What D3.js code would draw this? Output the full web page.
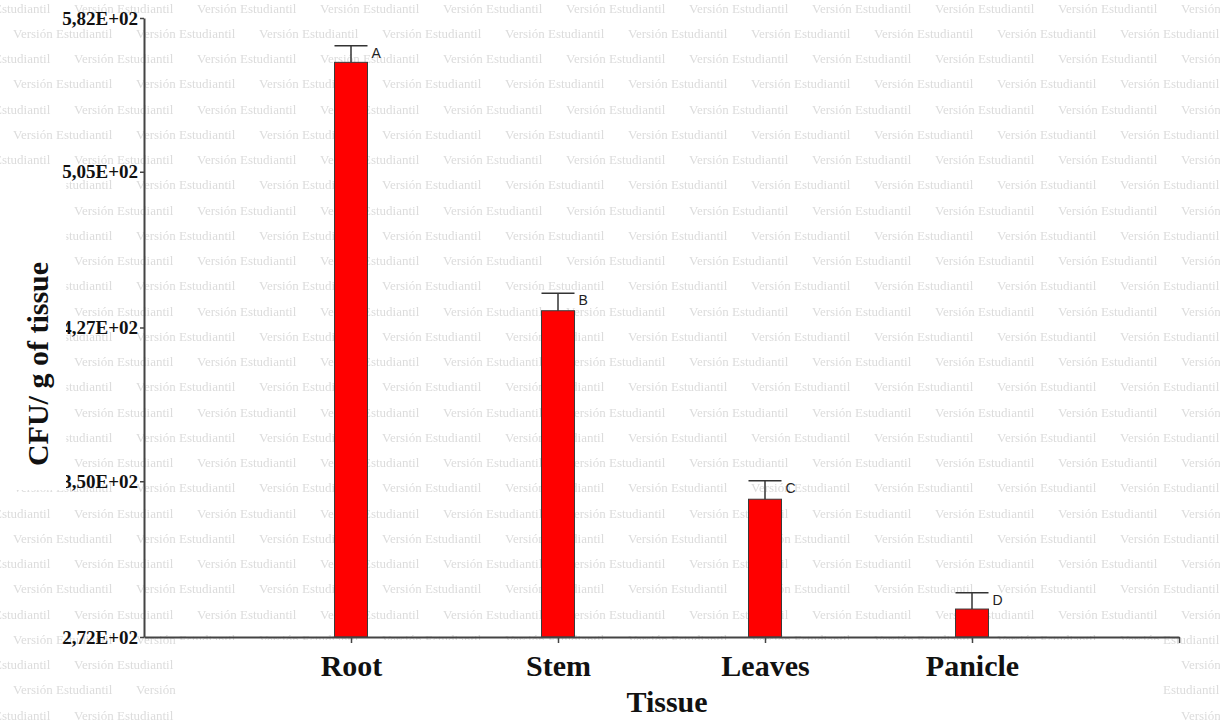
<!DOCTYPE html>
<html>
<head>
<meta charset="utf-8">
<script src="https://cdn.jsdelivr.net/npm/d3@7"></script>
<style>
  html, body { margin: 0; padding: 0; background: #fff; }
  svg { display: block; }
</style>
</head>
<body>
<svg id="chart" width="1220" height="723"></svg>
<script>
// Colony counts per tissue (CFU / g), with standard error and significance letters
const tissues = ["Root", "Stem", "Leaves", "Panicle"];
const cfuMeans = [559.8, 435.4, 341.0, 286.0];
const cfuErrors = [8.3, 8.7, 9.3, 8.2];
const groupLetters = ["A", "B", "C", "D"];
const yTickValues = [272, 350, 427, 505, 582];
const yTickLabels = ["2,72E+02", "3,50E+02", "4,27E+02", "5,05E+02", "5,82E+02"];

const W = 1220, H = 723;
const svg = d3.select("#chart");
const serif = "'Liberation Serif', 'Times New Roman', serif";

const x0 = 144, x1 = 1179, yTop = 18, yBase = 637;

// Category positions sit at 1..4 on a 0..5 linear axis
const x = d3.scaleLinear().domain([0, tissues.length + 1]).range([x0, x1]);
const y = d3.scaleLinear().domain([272, 582]).range([yBase, yTop]);
const barW = 33;

// Background watermark text, tiled
const defs = svg.append("defs");
const clip = defs.append("clipPath").attr("id", "wm-clip");
clip.append("rect").attr("x", 0).attr("y", 0).attr("width", W).attr("height", 640);
clip.append("rect").attr("x", 0).attr("y", 640).attr("width", 176).attr("height", H - 640);
clip.append("rect").attr("x", 1160).attr("y", 640).attr("width", W - 1160).attr("height", H - 640);
defs.append("filter").attr("id", "soft")
  .append("feGaussianBlur").attr("stdDeviation", 0.3);

const wm = svg.append("g").attr("clip-path", "url(#wm-clip)").attr("filter", "url(#soft)");
const rowStep = 25.25, colStep = 123;
for (let r = 0; r < 30; r++) {
  const off = (r % 2 === 0) ? 74 : 13;
  for (let c = -1; c < 11; c++) {
    wm.append("text")
      .attr("x", off + c * colStep)
      .attr("y", 12.5 + r * rowStep)
      .attr("font-family", serif)
      .attr("font-size", 13)
      .attr("fill", "#dcdcdc")
      .text("Versión Estudiantil");
  }
}

// Bars
svg.append("g").selectAll("rect.bar")
  .data(tissues)
  .join("rect")
  .attr("class", "bar")
  .attr("x", (d, i) => x(i + 1) - barW / 2)
  .attr("y", (d, i) => y(cfuMeans[i]))
  .attr("width", barW)
  .attr("height", (d, i) => y(272) - y(cfuMeans[i]))
  .attr("fill", "#ff0000")
  .attr("stroke", "#3a3a3a")
  .attr("stroke-width", 1);

// Error bars (upper side) with caps
const eb = svg.append("g").attr("stroke", "#333").attr("stroke-width", 1.5);
tissues.forEach((t, i) => {
  const cx = x(i + 1);
  eb.append("line").attr("x1", cx).attr("x2", cx)
    .attr("y1", y(cfuMeans[i])).attr("y2", y(cfuMeans[i] + cfuErrors[i]));
  eb.append("line").attr("x1", cx - barW / 2).attr("x2", cx + barW / 2)
    .attr("y1", y(cfuMeans[i] + cfuErrors[i])).attr("y2", y(cfuMeans[i] + cfuErrors[i]));
});

// Significance letters
svg.append("g").selectAll("text.grp")
  .data(groupLetters)
  .join("text")
  .attr("class", "grp")
  .attr("x", (d, i) => x(i + 1) + barW / 2 + 4)
  .attr("y", (d, i) => y(cfuMeans[i] + cfuErrors[i]) + 12)
  .attr("font-family", "'Liberation Sans', Arial, sans-serif")
  .attr("font-size", 14)
  .attr("fill", "#222")
  .text(d => d);

// Y axis
const yAxis = d3.axisLeft(y)
  .tickValues(yTickValues)
  .tickFormat((d, i) => yTickLabels[i])
  .tickSize(4)
  .tickSizeOuter(0)
  .tickPadding(2);
const gy = svg.append("g").attr("transform", `translate(${x0},0)`).call(yAxis);
gy.select(".domain").attr("stroke", "#444").attr("stroke-width", 2);
gy.selectAll(".tick line").attr("stroke", "#444").attr("stroke-width", 1.5);
gy.selectAll(".tick text")
  .attr("font-family", serif).attr("font-size", 19).attr("font-weight", "bold")
  .attr("fill", "#111");

// X axis
const xAxis = d3.axisBottom(x)
  .tickValues(d3.range(1, tissues.length + 2))
  .tickFormat(d => tissues[d - 1] || "")
  .tickSize(6)
  .tickSizeOuter(0)
  .tickPadding(12);
const gx = svg.append("g").attr("transform", `translate(0,${yBase})`).call(xAxis);
gx.select(".domain").attr("stroke", "#444").attr("stroke-width", 2);
gx.selectAll(".tick line").attr("stroke", "#444").attr("stroke-width", 1.5);
gx.selectAll(".tick text")
  .attr("font-family", serif).attr("font-size", 30).attr("font-weight", "bold")
  .attr("fill", "#111");

// Blank strip on the far left
svg.append("rect").attr("x", 0).attr("y", 179).attr("width", 66).attr("height", 311)
  .attr("fill", "#fff");

// Axis titles
svg.append("text")
  .attr("transform", "translate(48,364) rotate(-90)")
  .attr("text-anchor", "middle")
  .attr("font-family", serif).attr("font-size", 30).attr("font-weight", "bold")
  .attr("fill", "#111")
  .text("CFU/ g of tissue");

svg.append("text")
  .attr("x", 667).attr("y", 712)
  .attr("text-anchor", "middle")
  .attr("font-family", serif).attr("font-size", 30).attr("font-weight", "bold")
  .attr("fill", "#111")
  .text("Tissue");
</script>
</body>
</html>
